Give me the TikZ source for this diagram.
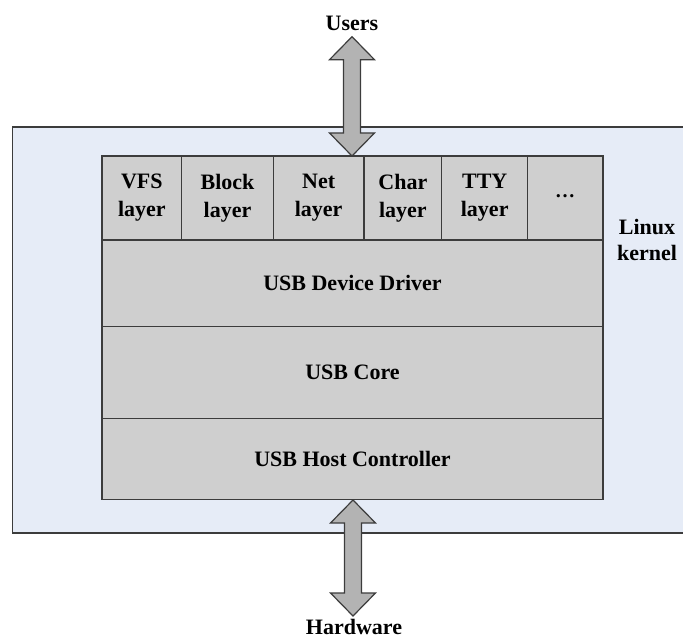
\documentclass[tikz,border=0pt]{standalone}
\usepackage{fontspec}
\setmainfont{Liberation Serif}
\usetikzlibrary{calc}
\definecolor{kernelbg}{HTML}{E6ECF7}
\definecolor{cellgray}{HTML}{CFCFCF}
\definecolor{arrowgray}{HTML}{B3B3B3}
\definecolor{edgecol}{HTML}{3C3C3C}
\newcommand\dblblockarrow[2]{%
  \draw[bigarrow] let \p1=(#1), \p2=(#2) in
    (\x1,\y1) -- (\x1+22.5pt,\y1-23pt) -- (\x1+8.5pt,\y1-23pt) --
    (\x1+8.5pt,\y2+23pt) -- (\x1+22.5pt,\y2+23pt) -- (\x1,\y2) --
    (\x1-22.5pt,\y2+23pt) -- (\x1-8.5pt,\y2+23pt) --
    (\x1-8.5pt,\y1-23pt) -- (\x1-22.5pt,\y1-23pt) -- cycle;}
\begin{document}
\begin{tikzpicture}[x=1pt,y=-1pt,
  cell/.style={draw=edgecol, fill=cellgray, line width=1.4pt, anchor=north west,
    outer sep=0pt, inner sep=0pt, font=\fontsize{22}{28}\selectfont\bfseries, align=center},
  lbl/.style={font=\fontsize{22}{26}\selectfont\bfseries, align=center, inner sep=0pt},
  bigarrow/.style={draw=edgecol, fill=arrowgray, line width=1.2pt, line join=miter}]
\useasboundingbox (0,0) rectangle (683,639);
% kernel area
\fill[kernelbg] (12.7,127) rectangle (683,533);
\draw[edgecol, line width=1.5pt] (683,127) -- (12.7,127) -- (12.7,533) -- (683,533);
\node[lbl] (kernel) at (647,239.5) {Linux\\kernel};
% layer row
\node[cell, minimum width=79.7, minimum height=84] (vfs) at (102,156) {VFS\\layer};
\node[cell, minimum width=91.6, minimum height=84] (block) at (181.7,156) {Block\\layer};
\node[cell, minimum width=90.7, minimum height=84] (net) at (273.3,156) {Net\\layer};
\node[cell, minimum width=77.7, minimum height=84] (char) at (364,156) {Char\\layer};
\node[cell, minimum width=86, minimum height=84] (tty) at (441.7,156) {TTY\\layer};
\node[cell, minimum width=75.3, minimum height=84] (more) at (527.7,156) {};
\node[font=\fontsize{20}{22}\selectfont\bfseries, inner sep=0pt] (dots) at (565,196.5) {…};
% stack rows
\node[cell, minimum width=501, minimum height=86.7] (driver) at (102,240) {USB Device Driver};
\node[cell, minimum width=501, minimum height=92] (core) at (102,326.7) {USB Core};
\node[cell, minimum width=501, minimum height=80.8] (host) at (102,418.7) {USB Host Controller};
% outside labels
\node[lbl] (users) at (352,23) {Users};
\node[lbl] (hw) at (354,627) {Hardware};
% block arrows
\coordinate (utop) at (352,36.7);
\coordinate (ubot) at (352,156);
\coordinate (htop) at (353,500);
\coordinate (hbot) at (353,616);
\dblblockarrow{utop}{ubot}
\dblblockarrow{htop}{hbot}
\end{tikzpicture}
\end{document}
